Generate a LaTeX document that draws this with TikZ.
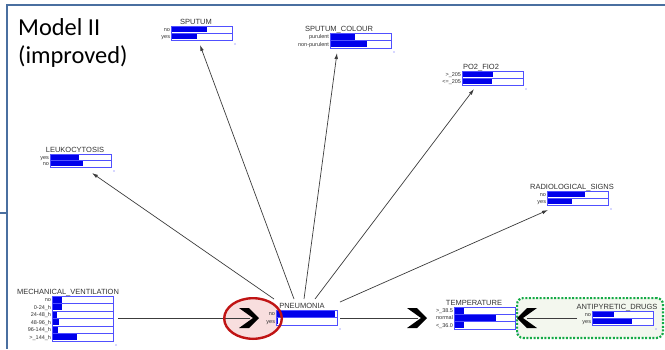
\documentclass[tikz,border=0pt]{standalone}
\usepackage{fontspec}
\setmainfont{Liberation Sans}
\newfontfamily\calib{Carlito}
\usetikzlibrary{arrows.meta,shapes.geometric}
\definecolor{framec}{RGB}{74,111,160}
\definecolor{barfill}{RGB}{0,0,235}
\definecolor{barline}{RGB}{80,80,255}
\definecolor{txtc}{RGB}{50,50,50}
\definecolor{connc}{RGB}{60,60,60}
\definecolor{redc}{RGB}{192,20,20}
\definecolor{pinkc}{RGB}{248,222,222}
\definecolor{greenc}{RGB}{20,170,70}
\definecolor{greenbg}{RGB}{243,247,238}
\tikzset{
  titletext/.style={anchor=base,inner sep=0pt,text=txtc,font=\fontsize{7.5}{8}\selectfont},
  rowlab/.style={anchor=east,inner sep=0pt,text height=3.9pt,text depth=0pt,text=txtc,font=\fontsize{5.5}{6}\selectfont},
  barbox/.style={draw=barline,fill=white,line width=0.8pt},
  conn/.style={draw=connc,line width=0.7pt,-{Latex[length=6pt,width=3.6pt]}},
  plainconn/.style={draw=connc,line width=0.8pt},
  chevpic/.pic={\fill[black] (0,0) -- (-10,-10) -- (-20,-10) -- (-6,0) -- (-20,10) -- (-10,10) -- cycle;}
}
% #1 name, #2 left x, #3 top y, #4 row height, #5 rows, #6 title x, #7 title, #8 label/fraction list
\newcommand\bnnode[8]{%
  \node[titletext] (#1-t) at (#6,#3-1.5) {#7};
  \node[inner sep=0pt,minimum width=61pt,minimum height={#5*#4pt},anchor=north west] (#1) at (#2,#3) {};
  \foreach[count=\i] \lab/\fr in {#8} {
    \pgfmathsetmacro\yt{#3+(\i-1)*#4}
    \draw[barbox] (#2,\yt) rectangle ++(61,#4);
    \fill[barfill] (#2+0.6,\yt+0.6) rectangle ++(59.8*\fr,#4-1.2);
    \node[rowlab] (#1-l\i) at (#2-0.8,\yt+#4/2) {\lab};
  }
  \fill[barline] (#2+64,#3+#5*#4+4) circle[radius=0.6pt];
}
\begin{document}
\begin{tikzpicture}[x=1pt,y=-1pt]
\useasboundingbox (0,0) rectangle (665,349);
% frame
\draw[framec,line width=1.8pt] (665,5) -- (7,5) -- (7,349);
\draw[framec,line width=1.8pt] (0,213) -- (7,213);
\node[anchor=base west,inner sep=0pt,align=left,font=\calib\fontsize{24.4}{28}\selectfont] (title) at (18,63) {Model II\\(improved)};
% highlight shapes (backgrounds)
\node[draw=greenc,fill=greenbg,line width=2.2pt,dash pattern=on 2pt off 1.6pt,rounded corners=6pt,minimum width=145.8pt,minimum height=39.8pt] (grp) at (590,318) {};
\node[fill=pinkc,ellipse,minimum width=57.6pt,minimum height=40.6pt,inner sep=0pt] (hl) at (253,318.5) {};
% connector end points
\coordinate (pA) at (274,299);
\coordinate (pB) at (294,299);
\coordinate (pC) at (304,299);
\coordinate (pD) at (315,299);
\coordinate (pE) at (340,302);
\coordinate (eA) at (92,173);
\coordinate (eB) at (200,45);
\coordinate (eC) at (337,53);
\coordinate (eD) at (474,89);
\coordinate (eE) at (548,210);
\coordinate (mvS) at (118,318);
\coordinate (mvE) at (250,318);
\coordinate (pnS) at (340,318);
\coordinate (tpE) at (418,318);
\coordinate (adS) at (577,318);
\coordinate (adE) at (527,318);
\draw[conn] (pA) -- (eA);
\draw[conn] (pB) -- (eB);
\draw[conn] (pC) -- (eC);
\draw[conn] (pD) -- (eD);
\draw[conn] (pE) -- (eE);
\draw[plainconn] (mvS) -- (mvE);
\draw[plainconn] (pnS) -- (tpE);
\draw[plainconn] (adS) -- (adE);
% network nodes
\bnnode{sp}{171}{26}{7}{2}{196}{SPUTUM}{no/0.59,yes/0.42}
\bnnode{sc}{330}{33}{7.5}{2}{339}{SPUTUM\_COLOUR}{purulent/0.41,non-purulent/0.61}
\bnnode{po}{462}{71}{7}{2}{481}{PO2\_FIO2}{>\_205/0.51,<=\_205/0.49}
\bnnode{lk}{50}{154}{6.5}{2}{75}{LEUKOCYTOSIS}{yes/0.47,no/0.55}
\bnnode{rs}{547}{191}{7}{2}{572}{RADIOLOGICAL\_SIGNS}{no/0.62,yes/0.40}
\bnnode{mv}{52}{296}{7.5}{6}{68}{MECHANICAL\_VENTILATION}{no/0.16,0-24\_h/0.16,24-48\_h/0.08,48-96\_h/0.11,96-144\_h/0.09,>\_144\_h/0.41}
\bnnode{pn}{276}{310}{7.5}{2}{302}{PNEUMONIA}{no/0.97,yes/0.03}
\bnnode{tp}{454}{307}{7.33}{3}{474}{TEMPERATURE}{>\_38.5/0.16,normal/0.70,<\_36.0/0.16}
\bnnode{ad}{592}{311}{7}{2}{617}{ANTIPYRETIC\_DRUGS}{no/0.35,yes/0.66}
% big chevron arrow heads
\pic at (259,318) {chevpic};
\pic at (427,318) {chevpic};
\pic[rotate=180] at (517,318) {chevpic};
% ellipse outline on top
\node[draw=redc,line width=2.4pt,ellipse,minimum width=57.6pt,minimum height=40.6pt,inner sep=0pt] (hlo) at (253,318.5) {};
\end{tikzpicture}
\end{document}
